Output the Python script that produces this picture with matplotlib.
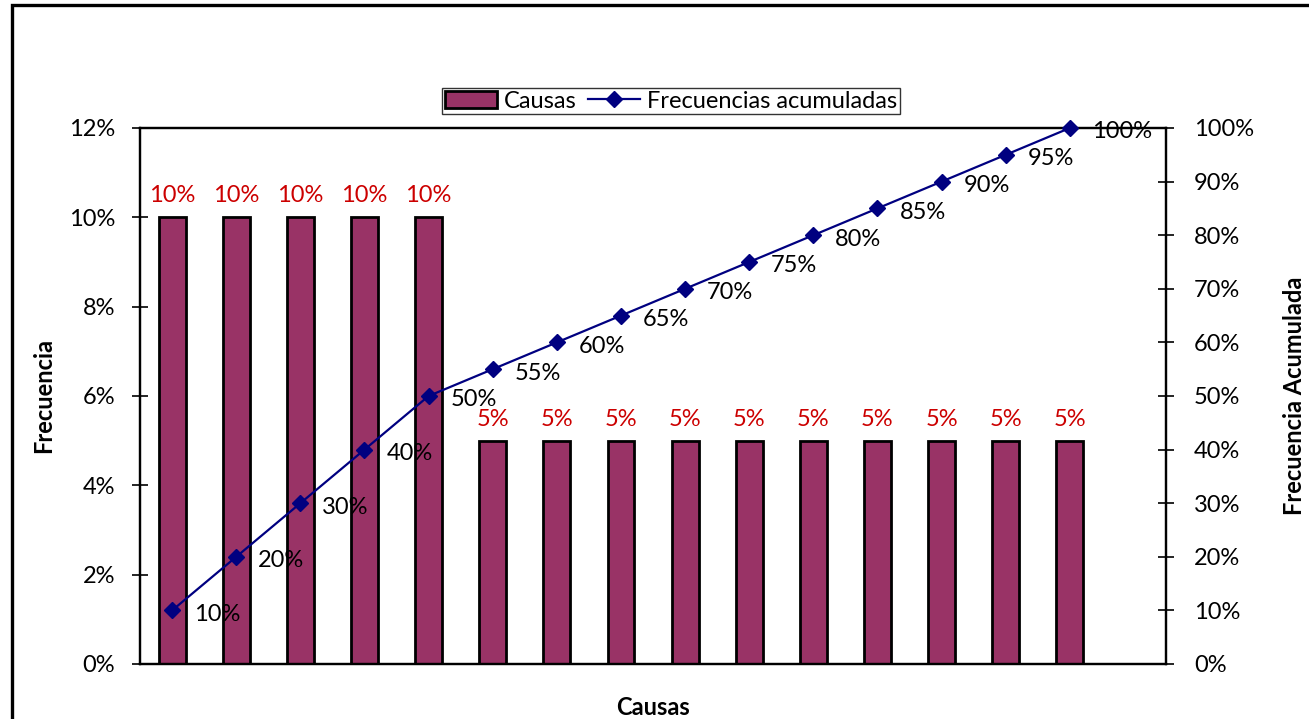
import matplotlib
matplotlib.use("Agg")
import matplotlib.pyplot as plt
from matplotlib.patches import Rectangle
from matplotlib.ticker import PercentFormatter

plt.rcParams['font.family'] = ['Lato', 'DejaVu Sans']

# Pareto data: share per cause and running total
causas = list(range(1, 16))
frecuencia = [0.10, 0.10, 0.10, 0.10, 0.10,
              0.05, 0.05, 0.05, 0.05, 0.05, 0.05, 0.05, 0.05, 0.05, 0.05]
acumulada = [0.10, 0.20, 0.30, 0.40, 0.50, 0.55, 0.60, 0.65, 0.70, 0.75,
             0.80, 0.85, 0.90, 0.95, 1.00]
left_ticks = [0, 0.02, 0.04, 0.06, 0.08, 0.10, 0.12]
right_ticks = [0, 0.1, 0.2, 0.3, 0.4, 0.5, 0.6, 0.7, 0.8, 0.9, 1.0]

BAR = '#993366'
LINE = '#000080'
LBL = '#CC0000'
FS = 17

fig = plt.figure(figsize=(13.09, 7.19), dpi=100)
ax = fig.add_axes([0.1070, 0.0765, 0.7838, 0.7455])
ax2 = ax.twinx()

x = list(range(len(causas)))
bars = ax.bar(x, frecuencia, width=0.42, color=BAR, edgecolor='black',
              linewidth=2, label='Causas', zorder=2)
for xi, v in zip(x, frecuencia):
    ax.annotate(f'{v:.0%}', (xi, v), xytext=(0, 15), textcoords='offset pixels',
                ha='center', va='baseline', color=LBL, fontsize=FS)

line, = ax2.plot(x, acumulada, color=LINE, lw=1.6, marker='D', markersize=8,
                 label='Frecuencias acumuladas', zorder=3, clip_on=False)
for xi, v in zip(x, acumulada):
    ax2.annotate(f'{v:.0%}', (xi, v), xytext=(22, -4), textcoords='offset pixels',
                 ha='left', va='center', color='black', fontsize=FS)

# 16 slots on the category axis, the last one left empty
ax.set_xlim(-0.5, 15.5)
ax.set_ylim(0, 0.12)
ax2.set_ylim(0, 1.0)
ax.set_yticks(left_ticks)
ax2.set_yticks(right_ticks)
ax.yaxis.set_major_formatter(PercentFormatter(1.0, decimals=0))
ax2.yaxis.set_major_formatter(PercentFormatter(1.0, decimals=0))
ax.set_xticks([])

for a in (ax, ax2):
    for s in a.spines.values():
        s.set_linewidth(1.6)
    a.tick_params(axis='y', direction='inout', length=12, width=1.2, labelsize=FS)
ax.tick_params(axis='y', pad=12)
ax2.tick_params(axis='y', pad=14)

ax.set_xlabel('Causas', fontsize=FS, fontweight='bold', labelpad=23)
ax.set_ylabel('Frecuencia', fontsize=FS, fontweight='bold', labelpad=10)
ax2.set_ylabel('Frecuencia Acumulada', fontsize=FS, fontweight='bold', labelpad=21)

fig.legend(handles=[bars, line], loc='center', bbox_to_anchor=(671 / 1309, 1 - 101 / 719),
           ncol=2, fontsize=FS, frameon=True, fancybox=False, edgecolor='black',
           borderpad=0.1, columnspacing=0.5, handlelength=2.2, handletextpad=0.3,
           borderaxespad=0).get_frame().set_linewidth(1)

# chart border
fig.patches.append(Rectangle((12 / 1309, -0.1), 1.2, 1.1 - 5 / 719, transform=fig.transFigure,
                             fill=False, edgecolor='black', linewidth=2.4))

fig.savefig('out.png', dpi=100)
